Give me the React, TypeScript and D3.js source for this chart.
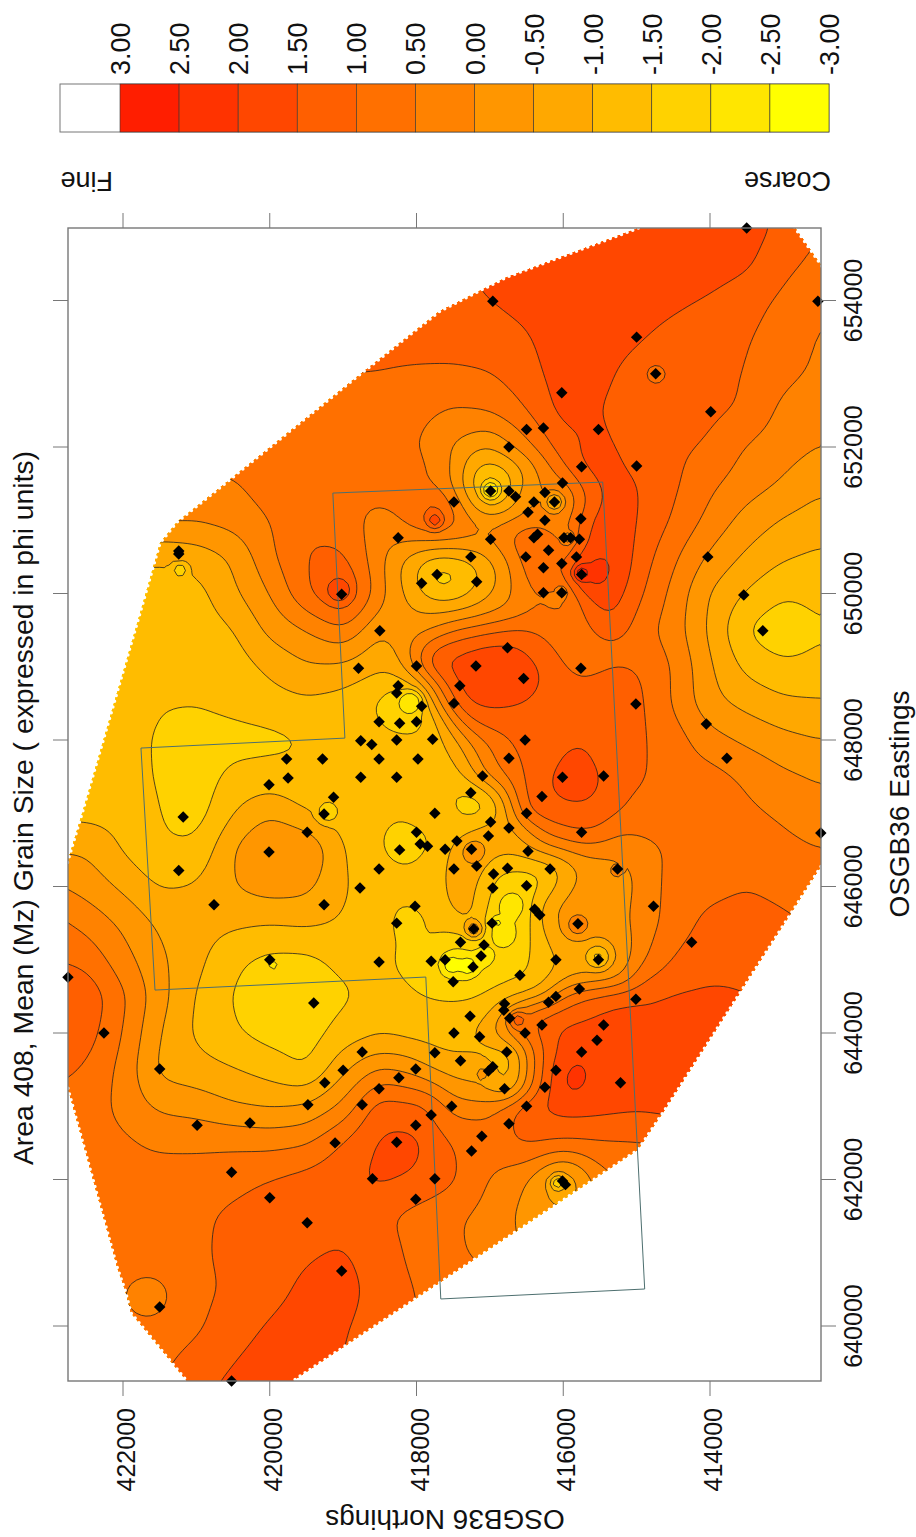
import React, { useMemo } from 'react';
import * as d3 from 'd3';

const FONT = '"Liberation Sans", Arial, sans-serif';

const levels = [3, 2.5, 2, 1.5, 1, 0.5, 0, -0.5, -1, -1.5, -2, -2.5, -3];
const levelLabels = ['3.00', '2.50', '2.00', '1.50', '1.00', '0.50', '0.00', '-0.50', '-1.00', '-1.50', '-2.00', '-2.50', '-3.00'];
const bandColors = ['#ff1e00', '#ff3300', '#ff4700', '#ff5f00', '#ff7000', '#ff8200', '#ff9600', '#ffa800', '#ffbc00', '#ffd200', '#ffe600', '#ffff00'];

const eastingTicks = [640000, 642000, 644000, 646000, 648000, 650000, 652000, 654000];
const northingTicks = [422000, 420000, 418000, 416000, 414000];

// mean grain size, rows 655000 -> 639000 every 500 m, columns 423000 -> 412500 every 500 m
const coarseGrid = [
  [1.1,1.1,1.1,1.1,1.1,1.2,1.2,1.2,1.2,1.3,1.3,1.5,1.7,1.8,1.8,1.8,1.8,1.8,1.8,1.7,1.4,1.0],
  [1,1,1,1,1,1.1,1.1,1.15,1.2,1.25,1.3,1.4,1.6,1.8,1.8,1.8,1.8,1.8,1.75,1.6,1.15,.85],
  [.9,.9,.9,.9,.95,1,1,1.1,1.15,1.2,1.3,1.4,1.5,1.65,1.8,1.8,1.75,1.6,1.45,1.2,.9,.5],
  [.8,.8,.8,.85,.9,.9,.95,1,1.05,1.1,1.15,1.25,1.3,1.45,1.8,1.7,1.55,1.35,1.2,1.05,.75,.45],
  [.7,.7,.7,.7,.75,.75,.8,.85,1.02,1,.95,.9,.98,1.3,1.75,1.6,1.35,1.2,1.15,.98,.65,.4],
  [.7,.7,.7,.7,.7,.7,.7,.75,.8,.8,.65,.45,.55,1,1.7,1.5,1.3,1.2,1.1,.95,.35,.1],
  [.75,.75,.75,.75,.75,.75,.75,.75,.75,.75,.52,-.05,-.55,.35,1.3,1.65,1.2,1.1,.95,.45,.2,0],
  [.4,.4,.4,.4,.4,.45,.75,.75,.75,.7,.55,-.05,-2,.5,.35,1.55,1.5,1.1,.6,.25,-.05,-.4],
  [.1,.1,.1,.1,.05,.2,.5,.9,.75,.25,.8,.75,-.1,.15,.2,1.75,1.5,.95,.35,-.2,-.55,-.75],
  [-.6,-.8,-.8,-.95,-.8,-.45,.4,1.05,1.1,.15,-.75,-1.05,-.45,.8,.7,2.1,1.35,.6,-.1,-.6,-.95,-1.1],
  [-1.3,-1.3,-1.3,-1.25,-1.2,-.6,0,.95,1.7,.2,-.85,-1.4,-.55,.45,-.1,1.95,1.15,.35,-.55,-1.05,-1.45,-1.35],
  [-1.3,-1.3,-1.3,-1.25,-1.25,-1.05,-.35,0,.45,-.45,-.2,.15,.85,1.05,.8,1.15,.75,.25,-.6,-1.55,-1.9,-1.55],
  [-1.3,-1.3,-1.3,-1.3,-1.3,-1.25,-.9,-.55,-.6,-.95,.4,1.7,1.8,1.7,1,.85,.98,.5,-.45,-1.15,-1.4,-1.35],
  [-1.3,-1.3,-1.3,-1.48,-1.48,-1.35,-1.2,-1.1,-1.25,-1.55,-2.2,1,1.6,1.45,1.3,1.3,1.15,.45,-.35,-.65,-.9,-.95],
  [-1.35,-1.35,-1.35,-1.55,-1.75,-1.7,-1.65,-1.5,-.95,-1.3,-1.4,-.75,.6,1.3,1.35,1.35,1.1,.75,.2,-.1,-.35,-.5],
  [-1.3,-1.3,-1.3,-1.55,-1.8,-1.35,-1.3,-1.4,-1.2,-1.25,-1.2,-1.3,.3,1.1,1.7,1.5,1.1,.75,.7,.42,.1,-.05],
  [-1.15,-1.15,-1.15,-1.5,-1.75,-1,-.55,-1,-1.25,-1.25,-1.2,-1.45,-1.7,1.15,1.3,1.25,.85,.75,.75,.6,.42,.15],
  [-.55,-.55,-1.05,-1.45,-1.4,-.5,.15,.05,-1,-1.45,-1.7,-.85,-.7,-.6,-.05,.2,.25,.6,.75,.8,.65,.52],
  [.1,-.2,-.6,-1.05,-.95,-.5,-.25,-.35,-.95,-1.3,-1.25,-.85,-1.55,-1.8,-.7,-.25,0,.75,.85,.98,.85,.7],
  [.7,.35,-.1,-.6,-.8,-.9,-.98,-.9,-1.05,-1.25,-1.65,-1.25,-1.9,-1.7,-.3,-.25,.1,.75,1.15,1.25,1.1,.9],
  [1,.85,.2,-.4,-.85,-1.4,-1.65,-1.65,-1.35,-1.3,-1.5,-2.6,-1.7,-1.6,-.95,-1.25,.3,1.05,1.3,1.4,1.45,1.2],
  [1.6,1.4,.6,-.3,-1.05,-1.55,-1.8,-1.8,-1.6,-1.3,-1.48,-1.55,-1.35,-.95,.6,1.2,1.4,1.55,1.6,1.5,1.4,1.3],
  [1.6,1.25,.5,-.5,-1.1,-1.45,-1.7,-1.75,-1.3,-1.05,-1.2,-1.15,-.6,.8,1.65,1.75,1.75,1.75,1.75,1.7,1.6,1.5],
  [1.1,.95,.35,-.65,-.8,-.97,-1.2,-1.55,-.6,.1,-.2,-.7,-.5,0,2.1,1.75,1.75,1.75,1.75,1.75,1.7,1.6],
  [.9,.85,.3,-.1,-.2,-.45,-.55,-.45,.1,1.3,1.2,.3,.3,1.45,1.75,1.7,1.6,1.7,1.7,1.7,1.7,1.6],
  [.9,.8,.6,.4,.4,.4,.35,.45,1.05,1.6,1.65,.95,.8,1.1,.95,.95,.95,1,1,1,1,1],
  [.8,.7,.65,.75,.75,.85,1.02,1.2,1.4,1.6,1.45,1.1,.45,.05,-1.2,.3,.7,.8,.8,.8,.8,.8],
  [.7,.7,.7,.75,.9,1.1,1.25,1.3,1.35,1.1,.8,.55,.35,-.2,-.4,0,.5,.6,.6,.6,.6,.6],
  [.7,.7,.7,.8,.9,1.15,1.3,1.45,1.55,1.25,.85,.55,.4,-.1,.1,.5,.6,.6,.6,.6,.6,.6],
  [.6,.6,.55,.45,.85,1.1,1.35,1.6,1.7,1.3,.98,.7,.6,.6,.6,.6,.6,.6,.6,.6,.6,.6],
  [.7,.7,.7,.7,.9,1.3,1.55,1.7,1.55,1.3,1,.9,.8,.8,.8,.8,.8,.8,.8,.8,.8,.8],
  [.9,.9,.9,.9,1.2,1.5,1.7,1.7,1.5,1.2,1,1,1,1,1,1,1,1,1,1,1,1],
  [1,1,1,1,1.4,1.7,1.8,1.75,1.5,1.2,1,1,1,1,1,1,1,1,1,1,1,1],
];

// densely sampled middle of the site, rows 652000 -> 643000 every 250 m, columns 418500 -> 415000 every 250 m
const fineGrid = [
  [.75,.65,.52,.25,-.05,-.4,-.55,-.05,.35,.85,1.3,1.6,1.65,1.5,1.2],
  [.75,.65,.7,.4,0,-.85,-1.15,-.85,-.35,.3,1,1.55,1.75,1.6,1.3],
  [.7,.6,.65,.35,-.05,-1.05,-2.2,-1.3,-.35,.1,.35,1.1,1.55,1.75,1.5],
  [.6,.65,.9,1.3,.3,-.55,-1.6,-1,.1,0,-.5,.8,1.45,1.8,1.55],
  [.25,.45,.8,1.4,.75,.05,-.1,.05,.15,.1,.2,1.3,1.75,1.8,1.5],
  [.1,.15,.1,.15,.1,.2,0,.6,1,1.2,-.2,1.3,1.8,1.8,1.5],
  [.15,-.4,-.75,-1.05,-1.05,-.95,-.45,0,.8,1.1,.7,1.7,2.1,1.95,1.35],
  [.15,-.5,-1,-2,-1.75,-1.25,-.85,-.1,.6,.85,.9,2.7,2.25,1.9,1.25],
  [.2,-.35,-.85,-1.35,-1.4,-1,-.55,-.15,.45,.55,-.1,1.4,1.95,1.65,1.15],
  [-.1,-.3,-.5,-.55,-.5,-.35,-.1,.1,.4,.55,.45,.85,1.55,1.55,.95],
  [-.45,-.25,-.2,0,.5,.7,.85,1.05,1.05,.85,.8,.75,1.15,1.3,.75],
  [-.85,-.4,.3,1.15,1.35,1.55,1.75,1.7,1.5,1.1,.8,.7,.85,.8,.7],
  [-.95,-.8,.4,1.55,1.7,1.85,1.8,1.75,1.7,1.45,1,.8,.85,1.02,.98],
  [-1.2,-1.4,-1.05,.25,1.35,1.85,1.85,1.85,1.75,1.4,1.25,1.05,1.25,1.3,1.15],
  [-1.55,-2.2,-2.2,-.3,1,1.65,1.6,1.55,1.45,1.3,1.3,1.3,1.3,1.35,1.15],
  [-1.6,-1.7,-1.75,-1.3,.1,1,1.3,1.3,1.3,1.3,1.35,1.35,1.35,1.35,1.15],
  [-1.3,-1.35,-1.4,-1.3,-.75,.15,.6,.95,1.3,1.3,1.35,1.45,1.35,1.3,1.1],
  [-1.1,-1.35,-1.25,-1.2,-1.1,-.3,.45,.75,1.15,1.2,1.55,1.7,1.3,1.3,1.1],
  [-1.25,-1.2,-1.2,-1.25,-1.3,-.75,.3,.6,1.1,1.45,1.7,1.85,1.5,1.25,1.1],
  [-1.35,-1.3,-1.3,-1.35,-1.55,-1.75,-1.35,0,1.15,1.4,1.6,1.7,1.45,1.15,.9],
  [-1.25,-1.45,-1.2,-1.05,-1.45,-1.8,-1.7,-.5,1.15,1.3,1.3,1.3,1.25,1.02,.85],
  [-1.5,-1.7,-1.7,-1.35,-1.35,-.95,-.45,-.8,-.3,.6,.95,1.1,.98,.5,.55],
  [-1.45,-1.75,-1.7,-1.45,-.85,-.25,-.7,-.85,-.6,-.2,-.05,.25,.2,.15,.25],
  [-1.3,-1.45,-1.45,-1.1,-.95,-.45,-1.35,-1.55,-1.55,-1.5,-1,-.45,-.25,-.15,0],
  [-1.3,-1.3,-1.25,-1.2,-.85,-.75,-1.55,-1.75,-1.8,-1.55,-.7,-.3,-.25,-.15,0],
  [-1.25,-1.55,-1.5,-1.3,-.85,-.75,-1.6,-2.15,-1.85,-.7,-.35,-.3,-.25,-.15,.05],
  [-1.25,-1.7,-1.65,-1.45,-1.25,-.8,-1.9,-2.4,-1.7,-.75,-.3,-.05,-.25,-.15,.1],
  [-1.2,-1.6,-1.45,-1.4,-1.9,-1.45,-1.5,-2.1,-1.6,-1.15,-.5,-.6,-.6,-.45,.15],
  [-1.3,-1.65,-1.5,-2,-2.6,-2.6,-2.05,-1.7,-1.6,-1.2,-.95,-.85,-1.25,-.55,.3],
  [-1.3,-1.5,-1.6,-1.75,-2.2,-2.05,-1.7,-1.6,-1.55,-1.2,-.7,-.4,-.35,-.1,.6],
  [-1.3,-1.35,-1.48,-1.55,-1.55,-1.5,-1.35,-1.2,-.95,-.6,.6,1,1.2,1.35,1.4],
  [-1.15,-1.2,-1.3,-1.3,-1.3,-1.25,-1.1,0,.9,1.2,1.25,1.35,1.55,1.65,1.7],
  [-1.05,-1.15,-1.2,-1.15,-1.15,-1,-.6,.5,.8,1.25,1.65,1.75,1.75,1.75,1.75],
  [-.6,-.55,-.75,-1,-1.1,-1.1,-1.4,-1.55,0,1.1,1.7,1.9,1.8,1.75,1.75],
  [.1,-.05,-.2,-.55,-.7,-.65,-.5,-1.45,0,1.2,2.1,2.2,1.75,1.75,1.75],
  [.7,.6,.45,.2,-.35,-.45,-.75,-1.5,.2,1.2,2.2,2.1,1.75,1.75,1.75],
  [1.3,1.1,1.2,.95,.3,.2,.3,.8,1.45,1.6,1.75,1.75,1.7,1.65,1.6],
];

// tight bulls-eyes around single stations: easting, northing, value, reach in metres
const localReadings = [
  [652995,414740,.6,220],[650046,419058,2,250],[650319,421223,-1.8,190],[650540,421240,-.3,130],
  [644928,419957,-2.4,110],[647016,419208,-1.9,250],[651410,416990,-2.7,190],[651250,416120,-1.15,190],
  [651000,417750,1.8,190],[650279,415750,2.9,170],[650010,416020,-.6,110],[650760,415939,-.5,140],
  [645474,415803,.3,270],[645037,415530,-1.6,250],[645420,417220,-.1,190],
  [645747,416702,-2.4,260],[645337,416824,-2.4,260],[645064,417069,-2.3,220],[645515,416906,-2.85,110],
  [644928,417519,-2.9,200],[644914,417301,-2.9,200],[646211,415271,.4,120],[641952,416075,-1.9,170],
  [640382,421673,.2,400],[643454,417097,-.4,190],[644177,416620,1.3,190],[646470,417219,-.1,250],
  [648518,418077,-2.5,245],
];

// sample stations: easting, northing
const stations = [
  [654990,413500],[653990,416960],[653990,412530],[653500,415000],[653000,414740],[652740,416020],[652480,413990],[652240,415520],
  [652260,416270],[652240,416500],[652000,416740],[651740,415000],[651730,415750],[651510,416010],[651400,416740],[651400,416990],
  [651320,416650],[651380,416250],[651250,417490],[651250,416400],[651250,416120],[651110,416480],[651020,415760],[651000,416250],
  [650740,416990],[650810,416350],[650760,416400],[650760,415990],[650760,415900],[650740,415780],[650590,416200],[650500,416510],
  [650500,415820],[650500,417260],[650500,414030],[650410,416020],[650350,416270],[650260,415750],[650160,417180],[649980,413540],
  [650010,416270],[650010,416020],[649490,413280],[649260,416760],[649010,417190],[648980,415760],[648840,416540],[648740,417410],
  [648500,417490],[648490,415010],[648220,414050],[648000,416520],[647750,416740],[647750,413770],[647510,417100],[647490,416010],
  [647510,415450],[647280,417260],[647230,416290],[647000,416500],[650540,421240],[650580,421240],[649990,419020],[650760,418250],
  [650260,417720],[650140,417930],[649490,418500],[649010,418000],[648980,418790],[648740,418250],[648640,418270],[648460,417930],
  [648250,418510],[648230,418230],[648250,418000],[647990,418760],[647940,418610],[648000,418270],[648010,417780],[647740,418510],
  [647740,417980],[647740,419770],[647740,419280],[647480,419750],[647490,418760],[647490,418270],[647390,420010],[647220,419130],
  [646990,419260],[646950,421180],[647000,417750],[646220,421240],[646740,419490],[646470,420010],[645750,420760],[645750,419260],
  [646240,418510],[645980,418770],[646740,418000],[646500,418230],[646580,417950],[646550,417850],[645730,418020],[645500,418270],
  [645000,420000],[644970,418510],[644980,417800],[644410,419400],[644760,422750],[644000,422260],[643510,421500],[643740,418740],
  [643730,417750],[643490,419000],[643510,418010],[643390,418240],[643320,419250],[643240,418510],[643020,418740],[643020,419480],
  [646880,416990],[646800,416740],[646740,415750],[646690,417020],[646620,417450],[646510,417610],[646510,417250],[646480,416480],
  [646730,412490],[646240,417490],[646280,417180],[646250,416760],[646240,416180],[646240,415260],[646170,416950],[645980,416960],
  [646010,416500],[645730,414770],[645690,416390],[645610,416320],[645490,415800],[645420,417220],[645500,416970],[645240,414250],
  [645240,417400],[645200,417080],[645050,417120],[645000,417610],[645000,416100],[645000,415520],[644900,417230],[644790,416590],
  [644700,417500],[644600,415780],[644500,416100],[644420,416200],[644460,415010],[644400,416800],[644310,416810],[644200,416730],
  [644230,417270],[644110,416290],[644110,415450],[644000,416520],[644000,417490],[643950,417140],[643900,415540],[643740,415750],
  [643740,416770],[643620,417400],[643540,416960],[643480,417020],[643490,416100],[643320,415220],[643260,416250],[643240,416800],
  [643000,417520],[643000,416500],[642770,420270],[642740,420990],[642740,418010],[642880,417800],[642760,416740],[642590,417110],
  [642510,418270],[642500,419110],[642390,417250],[642100,420520],[642010,418600],[642010,417750],[641930,415970],[641980,416010],
  [641750,420000],[641730,418010],[641410,419490],[640750,419020],[640260,421500],[639250,420520],
];

// outline of the gridded area (vertices on the plot frame run just past it)
const gridOutline = [
  [655097,414686],[655097,412915],[654319,412370],[646497,412343],[642989,414590],[642402,414985],[640601,417669],
  [639113,419889],[639113,421019],[640178,421891],[640491,421972],[640805,422081],[643631,422858],[645993,422858],
  [647043,422545],[649733,421768],[650688,421496],[650975,421264],[651589,420502],[652913,418867],[653855,417682],[654319,416770],
];

// licence block boundary
const licenceBlock = [
  [651371,419140],[651521,415462],[640505,414890],[640369,417669],[644764,417873],[644586,421564],[647890,421755],[648026,418976],[651371,419140],
];

const PLOT = { left: 68, right: 821, top: 228, bottom: 1381 };
const LEGEND = { top: 84, bottom: 132, left: 60, right: 829 };

const xN = d3.scaleLinear().domain([422000, 414000]).range([123, 710]);
const yE = d3.scaleLinear().domain([640000, 654000]).range([1326, 300.5]);
const legendX = d3.scaleLinear().domain([3, -3]).range([120, 829]);

const STEP = 62.5;
const N_MAX = 423000;
const E_MAX = 655000;
const COLS = Math.round((423000 - 412500) / STEP) + 1;
const ROWS = Math.round((655000 - 639000) / STEP) + 1;

function lookup(grid, row, col) {
  const r0 = Math.min(Math.floor(row), grid.length - 1);
  const c0 = Math.min(Math.floor(col), grid[0].length - 1);
  const r1 = Math.min(r0 + 1, grid.length - 1);
  const c1 = Math.min(c0 + 1, grid[0].length - 1);
  const fr = row - r0;
  const fc = col - c0;
  return (grid[r0][c0] * (1 - fc) + grid[r0][c1] * fc) * (1 - fr) + (grid[r1][c0] * (1 - fc) + grid[r1][c1] * fc) * fr;
}

function buildRaster() {
  const data = new Float64Array(COLS * ROWS);
  for (let r = 0; r < ROWS; r++) {
    for (let c = 0; c < COLS; c++) {
      const n = N_MAX - c * STEP;
      const e = E_MAX - r * STEP;
      const inFine = e <= 652000 && e >= 643000 && n <= 418500 && n >= 415000;
      data[r * COLS + c] = inFine
        ? lookup(fineGrid, (652000 - e) / 250, (418500 - n) / 250)
        : lookup(coarseGrid, (655000 - e) / 500, (423000 - n) / 500);
    }
  }
  d3.blur2({ data, width: COLS, height: ROWS }, 1.5);
  localReadings.forEach(([e0, n0, v, reach]) => {
    for (let r = 0; r < ROWS; r++) {
      for (let c = 0; c < COLS; c++) {
        const d = Math.hypot(N_MAX - c * STEP - n0, E_MAX - r * STEP - e0);
        if (d < reach) {
          const t = 1 - d / reach;
          const w = t * t * (3 - 2 * t);
          data[r * COLS + c] = data[r * COLS + c] * (1 - w) + v * w;
        }
      }
    }
  });
  return data;
}

export default function App() {
  const bands = useMemo(() => {
    const raster = buildRaster();
    const thresholds = [...levels].reverse();
    const polys = d3.contours().size([COLS, ROWS]).smooth(true).thresholds(thresholds)(Array.from(raster));
    const path = d3.geoPath(d3.geoTransform({
      point(c, r) {
        this.stream.point(xN(N_MAX - (c - 0.5) * STEP), yE(E_MAX - (r - 0.5) * STEP));
      },
    }));
    return polys.map((p) => ({ value: p.value, d: path(p) }));
  }, []);

  const outlinePath = d3.line().x((d) => xN(d[1])).y((d) => yE(d[0])).curve(d3.curveLinearClosed)(gridOutline);
  const blockPath = d3.line().x((d) => xN(d[1])).y((d) => yE(d[0]))(licenceBlock);
  const diamond = d3.symbol().type(d3.symbolSquare).size(66)();
  const bandFill = (v) => {
    const i = levels.indexOf(v);
    return i <= 0 ? 'none' : bandColors[i - 1];
  };

  return (
    <svg width={916} height={1537} style={{ position: 'absolute', left: 0, top: 0 }} fontFamily={FONT}>
      <defs>
        <clipPath id="plot-clip">
          <rect x={PLOT.left} y={PLOT.top} width={PLOT.right - PLOT.left} height={PLOT.bottom - PLOT.top} />
        </clipPath>
        <clipPath id="outline-clip">
          <path d={outlinePath} />
        </clipPath>
      </defs>

      {/* legend */}
      <rect x={LEGEND.left} y={LEGEND.top} width={LEGEND.right - LEGEND.left} height={LEGEND.bottom - LEGEND.top} fill="#fff" stroke="#777" strokeWidth={1} />
      {bandColors.map((c, i) => (
        <rect key={c} x={legendX(levels[i])} y={LEGEND.top} width={legendX(levels[i + 1]) - legendX(levels[i])} height={LEGEND.bottom - LEGEND.top} fill={c} stroke="#333" strokeWidth={0.6} />
      ))}
      {levels.map((v, i) => (
        <text key={v} transform={`translate(${legendX(v) + 10},75) rotate(-90)`} fontSize={27} fill="#111">{levelLabels[i]}</text>
      ))}
      <text transform="translate(113,172) rotate(180)" fontSize={27} fill="#111">Fine</text>
      <text transform="translate(831,172) rotate(180)" fontSize={27} fill="#111">Coarse</text>

      {/* map */}
      <g clipPath="url(#plot-clip)">
        <g clipPath="url(#outline-clip)">
          {bands.map((b) => <path key={b.value} d={b.d} fill={bandFill(b.value)} stroke="none" />)}
          {bands.map((b) => <path key={`l${b.value}`} d={b.d} fill="none" stroke="#222" strokeWidth={0.8} />)}
        </g>
        <path d={outlinePath} fill="none" stroke="#fff" strokeWidth={3.5} strokeLinecap="round" strokeDasharray="0 6" />
      </g>
      <path d={blockPath} fill="none" stroke="#4d6f6f" strokeWidth={1} />
      {stations.map((s, i) => (
        <path key={i} d={diamond} transform={`translate(${xN(s[1])},${yE(s[0])}) rotate(45)`} fill="#000" />
      ))}

      {/* frame and axes */}
      <rect x={PLOT.left} y={PLOT.top} width={PLOT.right - PLOT.left} height={PLOT.bottom - PLOT.top} fill="none" stroke="#777" strokeWidth={1.4} />
      {northingTicks.map((n) => (
        <g key={n}>
          <line x1={xN(n)} x2={xN(n)} y1={PLOT.top - 15} y2={PLOT.top} stroke="#777" />
          <line x1={xN(n)} x2={xN(n)} y1={PLOT.bottom} y2={PLOT.bottom + 15} stroke="#777" />
          <text transform={`translate(${xN(n) + 12},${PLOT.bottom + 27}) rotate(-90)`} textAnchor="end" fontSize={25} fill="#111">{n}</text>
        </g>
      ))}
      {eastingTicks.map((e) => (
        <g key={e}>
          <line y1={yE(e)} y2={yE(e)} x1={PLOT.left - 15} x2={PLOT.left} stroke="#777" />
          <line y1={yE(e)} y2={yE(e)} x1={PLOT.right} x2={PLOT.right + 15} stroke="#777" />
          <text transform={`translate(${PLOT.right + 41},${yE(e)}) rotate(-90)`} textAnchor="middle" fontSize={25} fill="#111">{e}</text>
        </g>
      ))}
      <text transform="translate(33,808) rotate(-90)" textAnchor="middle" fontSize={28.3} fill="#111">Area 408, Mean (Mz) Grain Size ( expressed in phi units)</text>
      <text transform="translate(909,804) rotate(-90)" textAnchor="middle" fontSize={28} fill="#111">OSGB36 Eastings</text>
      <text transform="translate(445,1510) rotate(180)" textAnchor="middle" fontSize={28} fill="#111">OSGB36 Northings</text>
    </svg>
  );
}
